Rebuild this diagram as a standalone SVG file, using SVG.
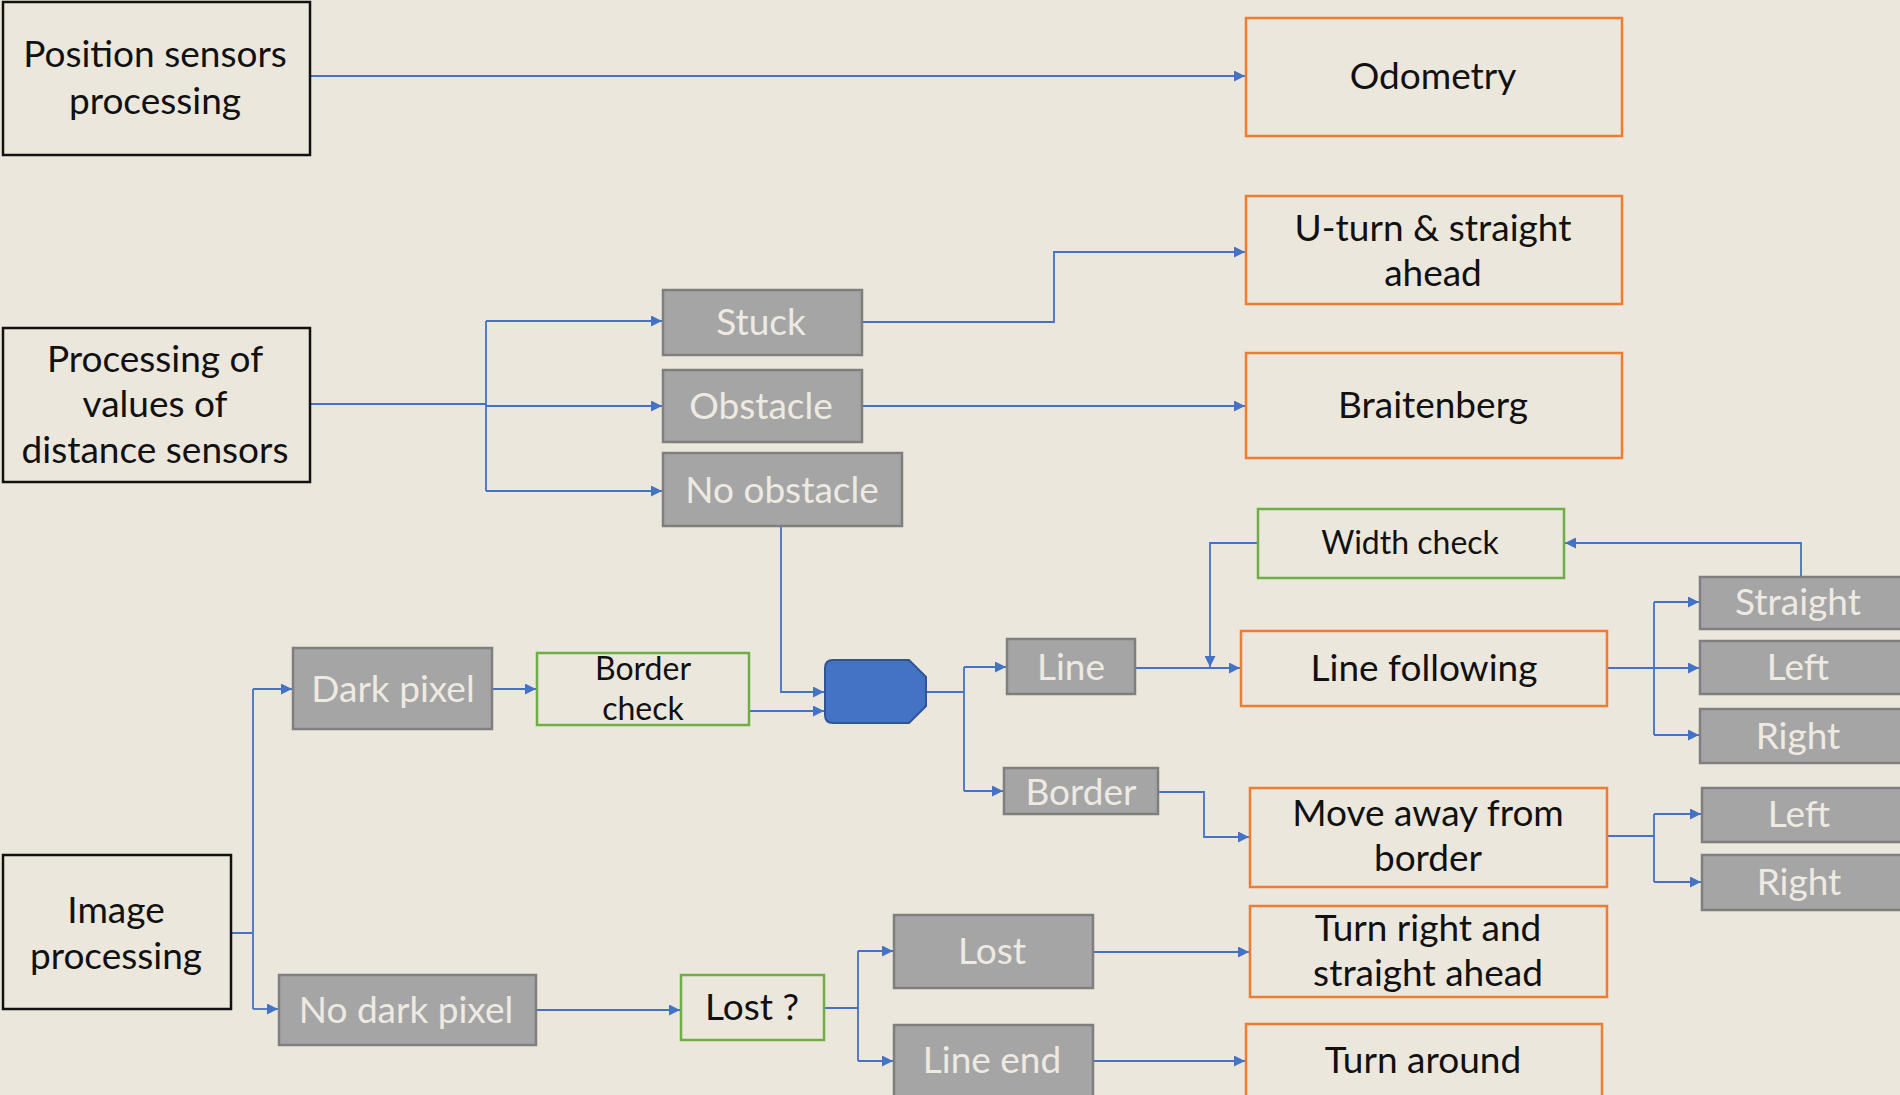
<svg xmlns="http://www.w3.org/2000/svg" width="1900" height="1095" viewBox="0 0 1900 1095">
<defs>
<marker id="ah" viewBox="0 0 10 10" refX="10" refY="5" markerWidth="11" markerHeight="11" markerUnits="userSpaceOnUse" orient="auto">
<path d="M0,0 L10,5 L0,10 Z" fill="#4472C4"/>
</marker>
<style>
.bk{fill:none;stroke:#111;stroke-width:2.5}
.or{fill:none;stroke:#ED7D31;stroke-width:2.5}
.gr{fill:none;stroke:#70AD47;stroke-width:2.5}
.gy{fill:#A5A5A5;stroke:#7F7F7F;stroke-width:2.5}
.t{font-family:Lato,"Liberation Sans",sans-serif;font-size:37px;fill:#111;text-anchor:middle}
.s{font-size:32px}
.w{fill:#EEEAE2}
.c{fill:none;stroke:#4472C4;stroke-width:1.8;marker-end:url(#ah)}
.n{fill:none;stroke:#4472C4;stroke-width:1.8}
</style>
</defs>
<rect width="1900" height="1095" fill="#ECE7DD"/>
<g id="connectors">
<path class="c" d="M310,76 H1245"/>
<path class="n" d="M310,404 H486" stroke-width="3"/>
<path class="n" d="M486,321 V491"/>
<path class="c" d="M486,321 H662"/>
<path class="c" d="M486,406 H662"/>
<path class="c" d="M486,491 H662"/>
<path class="c" d="M862,322 H1054 V252 H1245"/>
<path class="c" d="M862,406 H1245"/>
<path class="c" d="M781,526 V692 H824"/>
<path class="c" d="M749,711 H824"/>
<path class="c" d="M492,689 H536"/>
<path class="n" d="M231,933 H253 M253,689 V1009"/>
<path class="c" d="M253,689 H292"/>
<path class="c" d="M253,1009 H278"/>
<path class="n" d="M926,692 H964 M964,667 V791"/>
<path class="c" d="M964,667 H1006"/>
<path class="c" d="M964,791 H1003"/>
<path class="c" d="M1135,668 H1240"/>
<path class="c" d="M1258,543 H1210 V667"/>
<path class="c" d="M1801,577 V543 H1565"/>
<path class="n" d="M1607,668 H1654 M1654,602 V735"/>
<path class="c" d="M1654,602 H1699"/>
<path class="c" d="M1654,668 H1699"/>
<path class="c" d="M1654,735 H1699"/>
<path class="c" d="M1158,792 H1204 V837 H1249"/>
<path class="n" d="M1607,836 H1654 M1654,814 V882"/>
<path class="c" d="M1654,814 H1701"/>
<path class="c" d="M1654,882 H1701"/>
<path class="c" d="M536,1010 H680"/>
<path class="n" d="M824,1008 H858 M858,951 V1061"/>
<path class="c" d="M858,951 H893"/>
<path class="c" d="M858,1061 H893"/>
<path class="c" d="M1093,952 H1249"/>
<path class="c" d="M1093,1061 H1245"/>
</g>
<g id="posSensors"><rect class="bk" x="3" y="2" width="307" height="153"/><text class="t" x="155" y="67">Position sensors</text><text class="t" x="155" y="114">processing</text></g>
<g id="odometry"><rect class="or" x="1246" y="18" width="376" height="118"/><text class="t" x="1433" y="89">Odometry</text></g>
<g id="uturn"><rect class="or" x="1246" y="196" width="376" height="108"/><text class="t" x="1433" y="241">U-turn &amp; straight</text><text class="t" x="1433" y="286">ahead</text></g>
<g id="braitenberg"><rect class="or" x="1246" y="353" width="376" height="105"/><text class="t" x="1433" y="418">Braitenberg</text></g>
<g id="distProc"><rect class="bk" x="3" y="328" width="307" height="154"/><text class="t" x="155" y="372">Processing of</text><text class="t" x="155" y="417">values of</text><text class="t" x="155" y="463">distance sensors</text></g>
<g id="stuck"><rect class="gy" x="663" y="290" width="199" height="65"/><text class="t w" x="761" y="335">Stuck</text></g>
<g id="obstacle"><rect class="gy" x="663" y="370" width="199" height="72"/><text class="t w" x="761" y="419">Obstacle</text></g>
<g id="noObstacle"><rect class="gy" x="663" y="453" width="239" height="73"/><text class="t w" x="782" y="503">No obstacle</text></g>
<g id="widthCheck"><rect class="gr" x="1258" y="509" width="306" height="69"/><text class="t s" x="1410" y="554">Width check</text></g>
<g id="lineFollowing"><rect class="or" x="1241" y="631" width="366" height="75"/><text class="t" x="1424" y="681">Line following</text></g>
<g id="straight"><rect class="gy" x="1700" y="577" width="205" height="52"/><text class="t w" x="1798" y="615">Straight</text></g>
<g id="left1"><rect class="gy" x="1700" y="641" width="205" height="53"/><text class="t w" x="1798" y="680">Left</text></g>
<g id="right1"><rect class="gy" x="1700" y="709" width="205" height="54"/><text class="t w" x="1798" y="749">Right</text></g>
<g id="darkPixel"><rect class="gy" x="293" y="648" width="199" height="81"/><text class="t w" x="393" y="702">Dark pixel</text></g>
<g id="borderCheck"><rect class="gr" x="537" y="653" width="212" height="72"/><text class="t s" x="643" y="680">Border</text><text class="t s" x="643" y="720">check</text></g>
<g id="merge"><path d="M833,660 H909 L926,677 V706 L909,723 H833 Q825,723 825,715 V668 Q825,660 833,660 Z" fill="#4472C4" stroke="#2F5597" stroke-width="2"/></g>
<g id="line"><rect class="gy" x="1007" y="639" width="128" height="55"/><text class="t w" x="1071" y="680">Line</text></g>
<g id="border"><rect class="gy" x="1004" y="768" width="154" height="46"/><text class="t w" x="1081" y="805">Border</text></g>
<g id="moveAway"><rect class="or" x="1250" y="788" width="357" height="99"/><text class="t" x="1428" y="826">Move away from</text><text class="t" x="1428" y="871">border</text></g>
<g id="left2"><rect class="gy" x="1702" y="788" width="205" height="54"/><text class="t w" x="1799" y="827">Left</text></g>
<g id="right2"><rect class="gy" x="1702" y="855" width="205" height="55"/><text class="t w" x="1799" y="895">Right</text></g>
<g id="imageProc"><rect class="bk" x="3" y="855" width="228" height="154"/><text class="t" x="116" y="923">Image</text><text class="t" x="116" y="969">processing</text></g>
<g id="noDarkPixel"><rect class="gy" x="279" y="975" width="257" height="70"/><text class="t w" x="406" y="1023">No dark pixel</text></g>
<g id="lostQ"><rect class="gr" x="681" y="975" width="143" height="65"/><text class="t" x="752" y="1020">Lost ?</text></g>
<g id="lost"><rect class="gy" x="894" y="915" width="199" height="73"/><text class="t w" x="992" y="964">Lost</text></g>
<g id="lineEnd"><rect class="gy" x="894" y="1025" width="199" height="80"/><text class="t w" x="992" y="1073">Line end</text></g>
<g id="turnRight"><rect class="or" x="1250" y="906" width="357" height="91"/><text class="t" x="1428" y="941">Turn right and</text><text class="t" x="1428" y="986">straight ahead</text></g>
<g id="turnAround"><rect class="or" x="1246" y="1024" width="356" height="80"/><text class="t" x="1423" y="1073">Turn around</text></g>
</svg>
